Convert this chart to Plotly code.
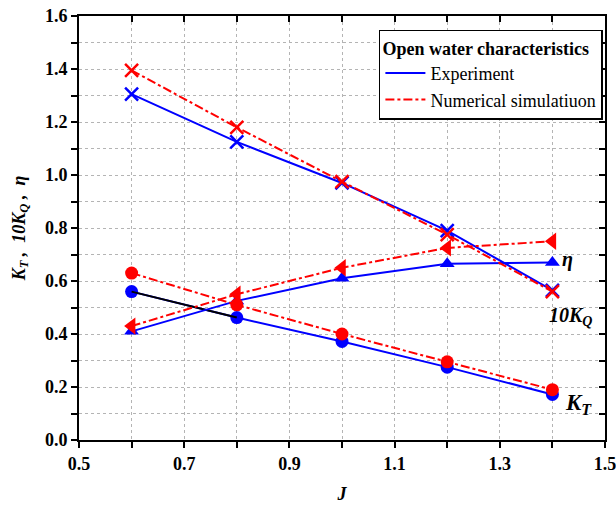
import plotly.graph_objects as go

J = [0.6, 0.8, 1.0, 1.2, 1.4]
kt_exp = [0.56, 0.462, 0.372, 0.275, 0.172]
kt_num = [0.63, 0.51, 0.40, 0.295, 0.19]
kq10_exp = [1.305, 1.125, 0.97, 0.79, 0.565]
kq10_num = [1.395, 1.18, 0.975, 0.775, 0.56]
eta_exp = [0.41, 0.525, 0.61, 0.665, 0.67]
eta_num = [0.43, 0.55, 0.65, 0.725, 0.75]
x_ticks = [0.5, 0.7, 0.9, 1.1, 1.3, 1.5]
y_ticks = [0.0, 0.2, 0.4, 0.6, 0.8, 1.0, 1.2, 1.4, 1.6]

BLUE = "#0000ff"
RED = "#ff0000"
FONT = "Liberation Serif, Times New Roman, serif"

fig = go.Figure()

def add(x, y, color, symbol, dash, size, mode="lines+markers"):
    fig.add_trace(go.Scatter(x=x, y=y, mode=mode, showlegend=False,
                             line=dict(color=color, width=2, dash=dash),
                             marker=dict(color=color, symbol=symbol, size=size,
                                         line=dict(color=color, width=2.5 if symbol == "x-thin" else 0))))

add(J, kt_exp, BLUE, "circle", "solid", 13)
add(J[:2], kt_exp[:2], "black", "circle", "solid", 1, mode="lines")
add(J, kq10_exp, BLUE, "x-thin", "solid", 13)
add(J, eta_exp, BLUE, "triangle-up", "solid", 13)
add(J, kt_num, RED, "circle", "dashdot", 13)
add(J, kq10_num, RED, "x-thin", "dashdot", 13)
add(J, eta_num, RED, "triangle-left", "dashdot", 15)

fig.add_trace(go.Scatter(x=[None], y=[None], mode="lines", name="Experiment",
                         line=dict(color=BLUE, width=2)))
fig.add_trace(go.Scatter(x=[None], y=[None], mode="lines", name="Numerical simulatiuon",
                         line=dict(color=RED, width=2, dash="dashdot")))
fig.add_trace(go.Scatter(x=[None], y=[None], xaxis="x2", yaxis="y2", showlegend=False))

fig.add_annotation(x=1.414, y=0.68, text="<b><i>η</i></b>", showarrow=False,
                   font=dict(family=FONT, size=20, color="black"), xanchor="left")
fig.add_annotation(x=1.39, y=0.465, text="<b><i>10K<sub>Q</sub></i></b>", showarrow=False,
                   font=dict(family=FONT, size=20, color="black"), xanchor="left")
fig.add_annotation(x=1.42, y=0.136, text="<b><i>K<sub>T</sub></i></b>", showarrow=False,
                   font=dict(family=FONT, size=23, color="black"), xanchor="left")

def common():
    return dict(showline=True, linecolor="black", linewidth=2, zeroline=False, automargin=False,
                tickfont=dict(family=FONT, size=18, color="black", weight="bold"),
                ticklen=6, tickwidth=2, tickcolor="black", ticklabeloverflow="allow")

GRID = dict(showgrid=True, gridcolor="#b4b4b4", griddash="dot", gridwidth=1)

fig.update_layout(
    width=616, height=506,
    margin=dict(l=79, r=11, t=16, b=66),
    paper_bgcolor="white", plot_bgcolor="white",
    font=dict(family=FONT, color="black", size=18),
    xaxis=dict(range=[0.5, 1.5], tickvals=x_ticks, ticktext=["%.1f" % v for v in x_ticks],
               ticks="outside", **GRID,
               minor=dict(dtick=0.1, tick0=0.5, ticks="outside", ticklen=6, tickwidth=2, tickcolor="black", **GRID),
               title=dict(text="<b><i>J</i></b>", font=dict(family=FONT, size=18)),
               **common()),
    yaxis=dict(range=[0, 1.6], tickvals=y_ticks, ticktext=["%.1f" % v for v in y_ticks],
               ticks="outside", **GRID,
               minor=dict(dtick=0.1, tick0=0, ticks="outside", ticklen=6, tickwidth=2, tickcolor="black", **GRID),
               title=dict(text="<b><i>K<sub>T</sub> ,  10K<sub>Q</sub> ,  η</i></b>",
                          font=dict(family=FONT, size=18)),
               **common()),
    xaxis2=dict(overlaying="x", side="top", range=[0.5, 1.5], tickvals=x_ticks,
                showticklabels=False, ticks="inside", showgrid=False,
                minor=dict(dtick=0.1, tick0=0.5, ticks="inside", ticklen=6, tickwidth=2, tickcolor="black"),
                **common()),
    yaxis2=dict(overlaying="y", side="right", range=[0, 1.6], tickvals=y_ticks,
                showticklabels=False, ticks="inside", showgrid=False,
                minor=dict(dtick=0.1, tick0=0, ticks="inside", ticklen=6, tickwidth=2, tickcolor="black"),
                **common()),
    legend=dict(x=0.996, y=0.967, xanchor="right", yanchor="top",
                bgcolor="white", bordercolor="black", borderwidth=1.5,
                font=dict(family=FONT, size=18, color="black"),
                title=dict(text="<b>Open water characteristics</b>", font=dict(family=FONT, size=18)),
                tracegroupgap=0, itemwidth=40),
)

fig.write_html("out.html")
